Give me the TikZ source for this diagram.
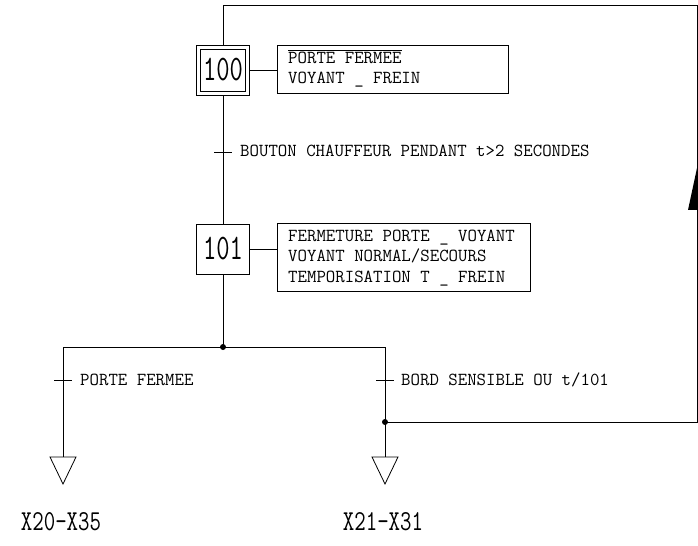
\documentclass[tikz,border=0pt]{standalone}
\usepackage{fontspec}
\usepackage{graphicx}
\usetikzlibrary{calc}
\begin{document}
\begin{tikzpicture}[x=1bp,y=-1bp,
  ln/.style={line width=0.8bp},
  txt/.style={font=\ttfamily\fontsize{18.4}{20}\selectfont, inner sep=0, anchor=base west},
  stepbox/.style={draw, line width=0.8bp, inner sep=0, minimum width=53bp},
  actbox/.style={draw, line width=0.8bp, inner sep=0, anchor=north west},
  bignum/.style={font=\ttfamily\fontsize{36}{36}\selectfont},
  biglab/.style={font=\ttfamily\fontsize{29}{29}\selectfont, inner sep=0}]
\useasboundingbox (0,0) rectangle (698,546);

% steps
\node[stepbox, minimum height=50bp] (s100) at (223,70) {};
\node[stepbox, minimum width=45bp, minimum height=42bp, bignum] (s100i) at (223,70) {\scalebox{0.72}[1]{100}};
\node[stepbox, minimum height=50bp, bignum] (s101) at (223,249) {\scalebox{0.72}[1]{101}};

% action boxes
\node[actbox, minimum width=231bp, minimum height=48bp] (a100) at (277,45) {};
\node[txt] (a100t1) at (288,64) {PORTE FERMEE};
\draw[ln] ($(a100t1.north west)+(0,-1.5)$) -- ($(a100t1.north east)+(0,-1.5)$);
\node[txt] (a100t2) at (288,84) {VOYANT \_ FREIN};

\node[actbox, minimum width=253bp, minimum height=68bp] (a101) at (277,223) {};
\node[txt] (a101t1) at (288,242) {FERMETURE PORTE \_ VOYANT};
\node[txt] (a101t2) at (288,262) {VOYANT NORMAL/SECOURS};
\node[txt] (a101t3) at (288,282) {TEMPORISATION T \_ FREIN};

\draw[ln] (s100.east) -- (a100.west |- s100.east);
\draw[ln] (s101.east) -- (a101.west |- s101.east);

% coordinates
\coordinate (t1) at (223,152);
\coordinate (j) at (223,347);
\coordinate (bl) at (63,347);
\coordinate (brr) at (385,347);
\coordinate (t2) at (63,380);
\coordinate (t3) at (385,380);
\coordinate (d2) at (385,422);
\coordinate (br) at (697,422);
\coordinate (tr) at (697,5);
\coordinate (tl) at (223,5);
\coordinate (triL) at (63,457);
\coordinate (triR) at (385,457);

% main lines
\draw[ln] (s100.south) -- (s101.north);
\draw[ln] (s101.south) -- (j);
\draw[ln] (bl) -- (brr);
\draw[ln] (bl) -- (triL);
\draw[ln] (brr) -- (triR);
\draw[ln] (d2) -- (br) -- (tr) -- (tl) -- (s100.north);
\fill (j) circle (3);
\fill (d2) circle (3);
\fill (697,168) -- (697,210) -- (688,210) -- cycle;

% transitions
\draw[ln] ($(t1)+(-9,0)$) -- ($(t1)+(9,0)$);
\node[txt] (tx1) at (240,157) {BOUTON CHAUFFEUR PENDANT t>2 SECONDES};
\draw[ln] ($(t2)+(-9,0)$) -- ($(t2)+(9,0)$);
\node[txt] (tx2) at (80,385) {PORTE FERMEE};
\draw[ln] ($(t3)+(-9,0)$) -- ($(t3)+(9,0)$);
\node[txt] (tx3) at (401,385) {BORD SENSIBLE OU t/101};

% destination triangles
\draw[ln] ($(triL)+(-13,0)$) -- ($(triL)+(13,0)$) -- ($(triL)+(0,27)$) -- cycle;
\draw[ln] ($(triR)+(-13,0)$) -- ($(triR)+(13,0)$) -- ($(triR)+(0,27)$) -- cycle;
\node[biglab] (lbL) at (61,522) {\scalebox{0.77}[1]{X20-X35}};
\node[biglab] (lbR) at (383,522) {\scalebox{0.77}[1]{X21-X31}};
\end{tikzpicture}
\end{document}
